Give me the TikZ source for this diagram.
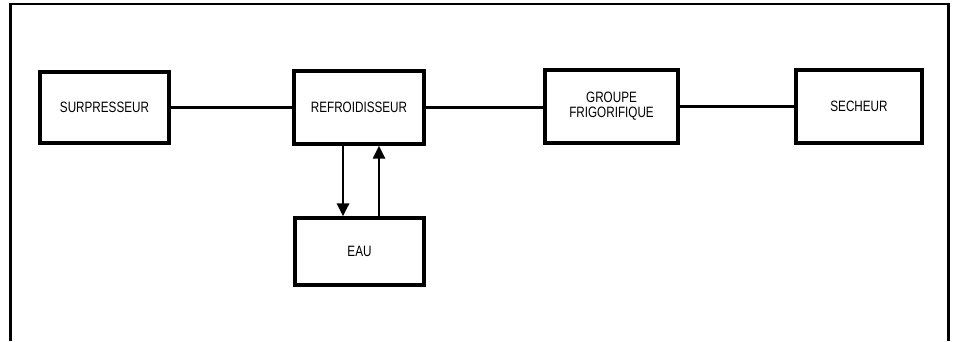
\documentclass[tikz,border=0pt]{standalone}
\usepackage{fontspec}
\setmainfont[FakeStretch=0.78]{Liberation Sans}
\usetikzlibrary{arrows.meta}
\begin{document}
\begin{tikzpicture}[x=1pt,y=-1pt,
  blk/.style={draw,line width=3.2pt,minimum width=#1,inner sep=0pt,align=center,font=\fontsize{15}{15}\selectfont},
  conn/.style={line width=2.4pt},
  arr/.style={line width=2.8pt,-{Triangle[width=12pt,length=13pt]}}]
\useasboundingbox (0,0) rectangle (956,341);
\draw[line width=2.2pt] (10.5,341) -- (10.5,4) -- (948.5,4) -- (948.5,341);
\node[blk=129pt,minimum height=71pt] (sur) at (104.5,107.5) {SURPRESSEUR};
\node[blk=130pt,minimum height=73pt] (ref) at (359,107.5) {REFROIDISSEUR};
\node[blk=133pt,minimum height=73pt] (grp) at (611.5,106.5) {GROUPE\\FRIGORIFIQUE};
\node[blk=126pt,minimum height=73pt] (sec) at (859,106.5) {SECHEUR};
\node[blk=129pt,minimum height=67pt] (eau) at (359.5,251.5) {EAU};
\draw[conn] (sur.east) -- (ref.west);
\draw[conn] (ref.east) -- (grp.west |- ref.east);
\draw[conn] (grp.east) -- (sec.west);
\draw[arr] ([xshift=-16pt]ref.south) -- ([xshift=-16.5pt]eau.north);
\draw[arr] ([xshift=19.5pt]eau.north) -- ([xshift=20pt]ref.south);
\end{tikzpicture}
\end{document}
